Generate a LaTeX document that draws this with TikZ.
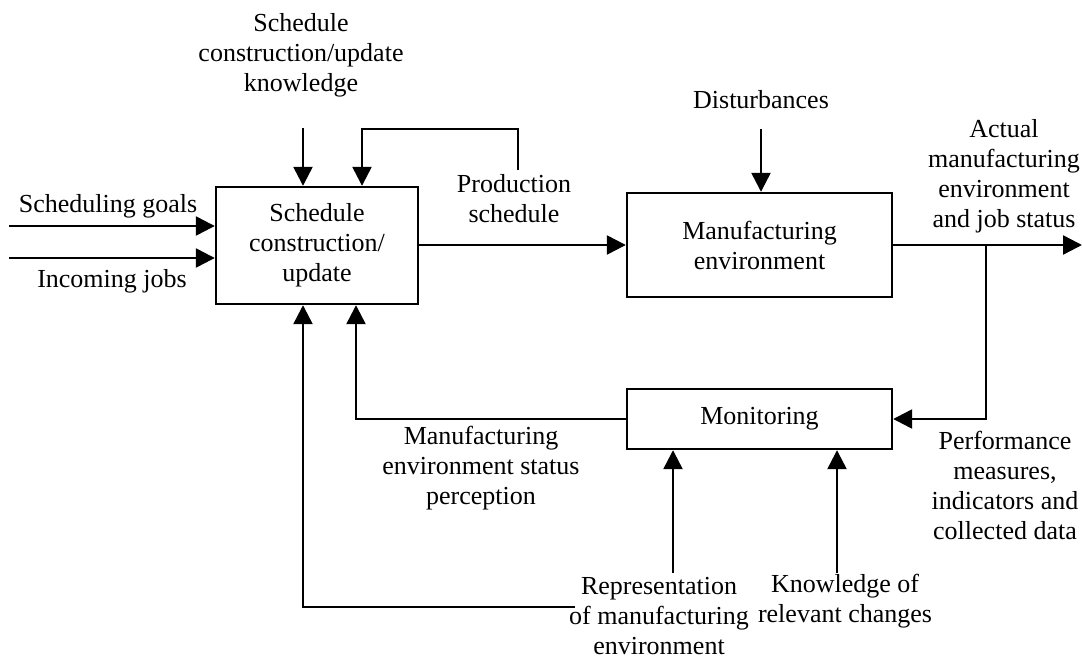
\documentclass[tikz,border=0pt]{standalone}
\usepackage{fontspec}
\setmainfont{Liberation Serif}
\usetikzlibrary{arrows.meta}
\begin{document}
\begin{tikzpicture}[x=1pt,y=-1pt,
  every node/.append style={font=\fontsize{26}{30}\selectfont},
  blk/.style={draw, line width=2.4pt, align=center, inner sep=0pt},
  lbl/.style={align=center, inner sep=0pt},
  wire/.style={line width=2.4pt},
  arr/.style={wire, -{Triangle[length=19pt,width=19pt]}}]
\useasboundingbox[fill=white] (0,0) rectangle (1082,661);

% process blocks
\node[blk, minimum width=202pt, minimum height=117pt] (sched) at (317,245.5)
  {Schedule\\construction/\\update};
\node[blk, minimum width=265pt, minimum height=104pt] (env) at (759.5,245)
  {Manufacturing\\environment};
\node[blk, minimum width=265pt, minimum height=60pt] (mon) at (759.5,419)
  {Monitoring};

% labels
\node[lbl] (kLbl) at (301,55) {Schedule\\construction/update\\knowledge};
\node[lbl] (gLbl) at (108,206) {Scheduling goals};
\node[lbl] (jLbl) at (112,281) {Incoming jobs};
\node[lbl] (psLbl) at (514,199) {Production\\schedule};
\node[lbl] (dLbl) at (761,100) {Disturbances};
\node[lbl] (aLbl) at (1004,176) {Actual\\manufacturing\\environment\\and job status};
\node[lbl] (pLbl) at (1005,485) {Performance\\measures,\\indicators and\\collected data};
\node[lbl] (sLbl) at (481,468) {Manufacturing\\environment status\\perception};
\node[lbl] (rLbl) at (659,616) {Representation\\of manufacturing\\environment};
\node[lbl] (cLbl) at (845,601) {Knowledge of\\relevant changes};

% free ends and corners of connectors
\coordinate (gL) at (9,226);
\coordinate (jL) at (9,258);
\coordinate (kTop) at (303,128);
\coordinate (psEnd) at (518,170);
\coordinate (psTop) at (362,129);
\coordinate (dTop) at (761,129);
\coordinate (outR) at (1082,245);
\coordinate (br) at (986,245);
\coordinate (fbL) at (356,419);
\coordinate (repEnd) at (575,607);
\coordinate (repCorner) at (303,607);
\coordinate (repUp) at (673,573);
\coordinate (krcUp) at (837,573);

% connectors
\draw[arr] (gL) -- (gL -| sched.west);
\draw[arr] (jL) -- (jL -| sched.west);
\draw[arr] (kTop) -- (kTop |- sched.north);
\draw[arr] (psEnd) |- (psTop) -- (psTop |- sched.north);
\draw[arr] (sched.east |- env.west) -- (env.west);
\draw[arr] (dTop) -- (dTop |- env.north);
\draw[arr] (env.east) -- (outR);
\draw[arr] (br) |- (mon.east);
\draw[arr] (mon.west) -- (fbL) -- (fbL |- sched.south);
\draw[arr] (repEnd) -- (repCorner) -- (repCorner |- sched.south);
\draw[arr] (repUp) -- (repUp |- mon.south);
\draw[arr] (krcUp) -- (krcUp |- mon.south);
\end{tikzpicture}
\end{document}
